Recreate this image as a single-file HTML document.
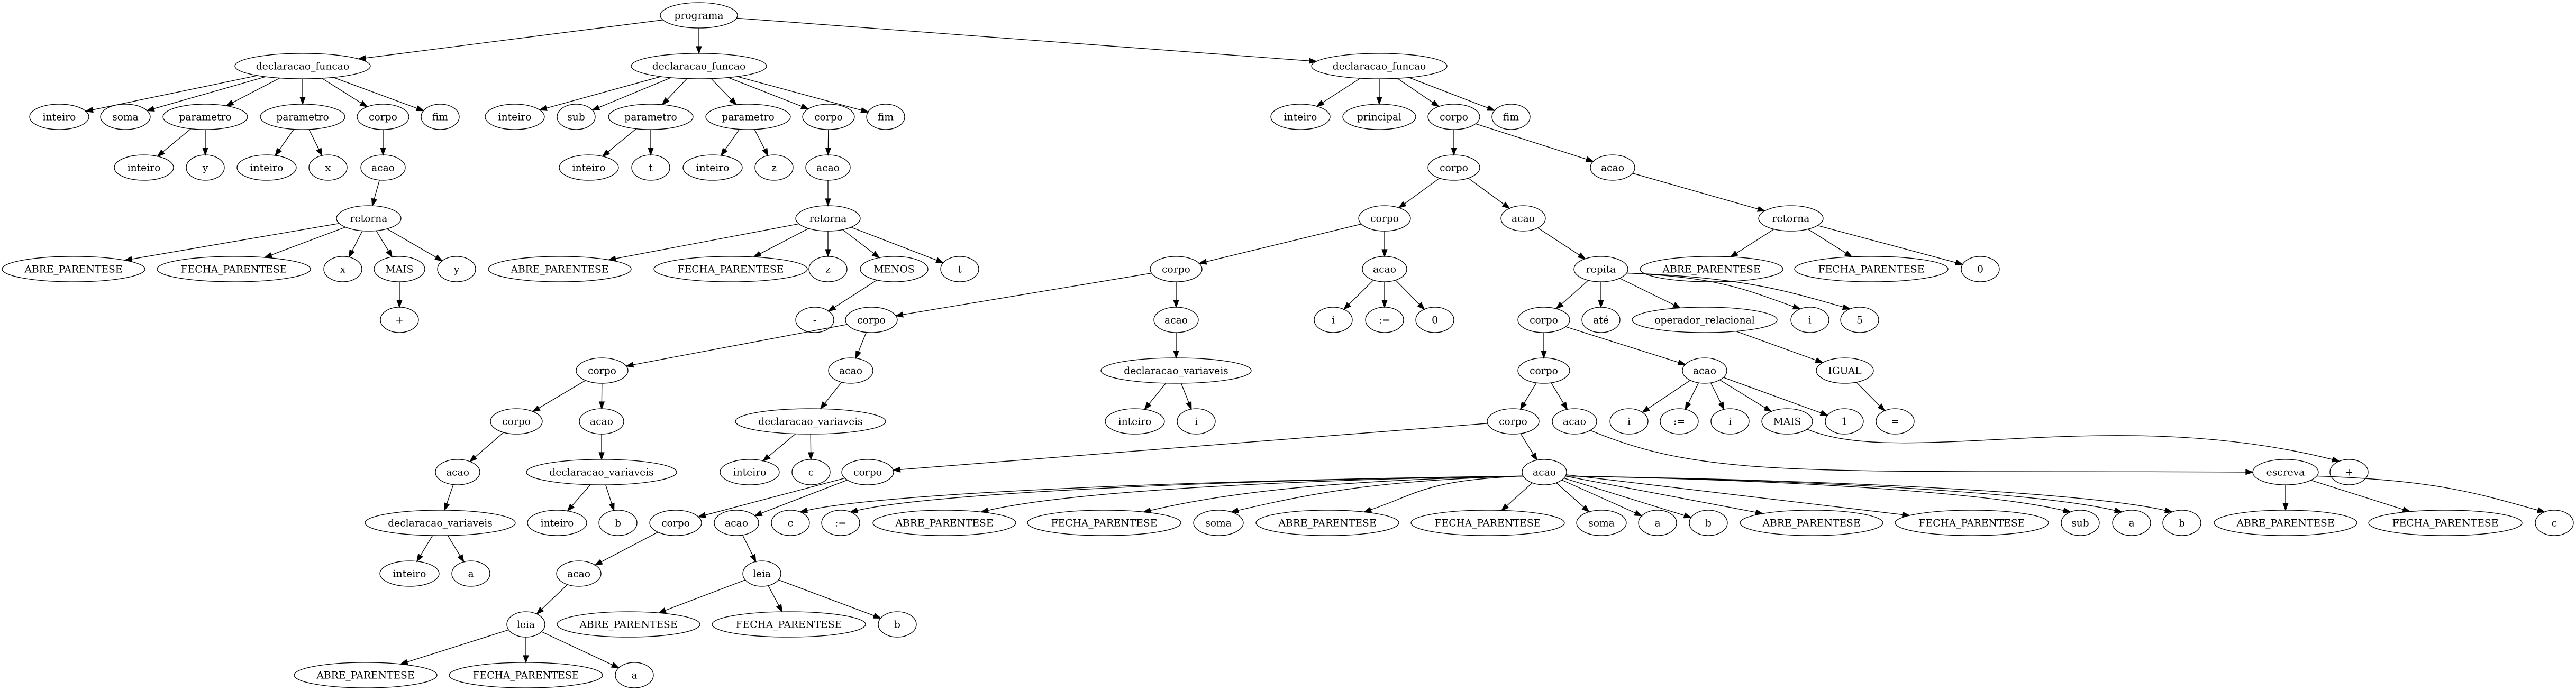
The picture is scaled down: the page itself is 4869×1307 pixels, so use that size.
<!DOCTYPE html>
<html><head><meta charset="utf-8">
<style>
html,body{margin:0;padding:0;background:#fff;}
svg{display:block;}
text{font-family:"DejaVu Serif","Liberation Serif",serif;font-size:18.67px;}
</style></head>
<body>
<svg id="g" xmlns="http://www.w3.org/2000/svg" width="4869" height="1307" viewBox="0 0 4869 1307"></svg>
<script>
var RX={"inteiro":56,"soma":47,"parametro":80,"corpo":49,"fim":36,"acao":42,"retorna":61,
"ABRE_PARENTESE":135,"FECHA_PARENTESE":145,"MAIS":48,"MENOS":64,"declaracao_funcao":128,
"declaracao_variaveis":142,"principal":69,"sub":36,"leia":36,"repita":51,"até":36,
"operador_relacional":137,"IGUAL":54,"escreva":62,"programa":73};
var N={};
function n(id,label,x,L){N[id]={l:label,x:x,y:29+96*L,rx:RX[label]||36};}
var E=[];
function e(a,bs){bs.forEach(function(b){E.push([a,b]);});}
n("p","programa",1321,0);
n("f1","declaracao_funcao",572,1);n("f2","declaracao_funcao",1321,1);n("f3","declaracao_funcao",2607,1);
e("p",["f1","f2","f3"]);
n("a1","inteiro",112,2);n("a2","soma",237,2);n("a3","parametro",388,2);n("a4","parametro",572,2);n("a5","corpo",724,2);n("a6","fim",832,2);
e("f1",["a1","a2","a3","a4","a5","a6"]);
n("b1","inteiro",272,3);n("b2","y",388,3);n("b3","inteiro",504,3);n("b4","x",620,3);n("b5","acao",724,3);
e("a3",["b1","b2"]);e("a4",["b3","b4"]);e("a5",["b5"]);
n("c1","retorna",697,4);e("b5",["c1"]);
n("d1","ABRE_PARENTESE",139,5);n("d2","FECHA_PARENTESE",442,5);n("d3","x",648,5);n("d4","MAIS",755,5);n("d5","y",863,5);
e("c1",["d1","d2","d3","d4","d5"]);
n("d6","+",755,6);e("d4",["d6"]);
n("g1","inteiro",973,2);n("g2","sub",1089,2);n("g3","parametro",1230,2);n("g4","parametro",1414,2);n("g5","corpo",1566,2);n("g6","fim",1674,2);
e("f2",["g1","g2","g3","g4","g5","g6"]);
n("h1","inteiro",1113,3);n("h2","t",1230,3);n("h3","inteiro",1347,3);n("h4","z",1463,3);n("h5","acao",1565,3);
e("g3",["h1","h2"]);e("g4",["h3","h4"]);e("g5",["h5"]);
n("i1","retorna",1565,4);e("h5",["i1"]);
n("j1","ABRE_PARENTESE",1058,5);n("j2","FECHA_PARENTESE",1381,5);n("j3","z",1565,5);n("j4","MENOS",1690,5);n("j5","t",1814,5);
e("i1",["j1","j2","j3","j4","j5"]);
n("j6","-",1540,6);e("j4",["j6"]);
n("k1","inteiro",2458,2);n("k2","principal",2607,2);n("k3","corpo",2748,2);n("k4","fim",2856,2);
e("f3",["k1","k2","k3","k4"]);
n("l1","corpo",2748,3);n("l2","acao",3048,3);e("k3",["l1","l2"]);
n("m1","corpo",2617,4);n("m2","acao",2879,4);n("m3","retorna",3385,4);
e("l1",["m1","m2"]);e("l2",["m3"]);
n("o1","corpo",2223,5);n("o2","acao",2617,5);n("o3","repita",3026,5);n("o4","ABRE_PARENTESE",3235,5);n("o5","FECHA_PARENTESE",3537,5);n("o6","0",3743,5);
e("m1",["o1","o2"]);e("m2",["o3"]);e("m3",["o4","o5","o6"]);
n("q1","corpo",1647,6);n("q2","acao",2223,6);n("q3","i",2520,6);n("q4",":=",2617,6);n("q5","0",2712,6);
n("q6","corpo",2918,6);n("q7","até",3026,6);n("q8","operador_relacional",3222,6);n("q9","i",3421,6);n("q10","5",3515,6);
e("o1",["q1","q2"]);e("o2",["q3","q4","q5"]);e("o3",["q6","q7","q8","q9","q10"]);
n("r1","corpo",1138,7);n("r2","acao",1608,7);n("r3","declaracao_variaveis",2223,7);n("r4","corpo",2918,7);n("r5","acao",3222,7);n("r6","IGUAL",3487,7);
e("q1",["r1","r2"]);e("q2",["r3"]);e("q6",["r4","r5"]);e("q8",["r6"]);
n("s1","corpo",976,8);n("s2","acao",1137,8);n("s3","declaracao_variaveis",1532,8);n("s4","inteiro",2145,8);n("s5","i",2261,8);
n("s6","corpo",2860,8);n("s7","acao",2976,8);n("s8","i",3079,8);n("s9",":=",3174,8);n("s10","i",3270,8);n("s11","MAIS",3378,8);n("s12","1",3486,8);n("s13","=",3582,8);
e("r1",["s1","s2"]);e("r2",["s3"]);e("r3",["s4","s5"]);e("r4",["s6","s7"]);e("r5",["s8","s9","s10","s11","s12"]);e("r6",["s13"]);
n("t1","acao",865,9);n("t2","declaracao_variaveis",1137,9);n("t3","inteiro",1417,9);n("t4","c",1533,9);n("t5","corpo",1640,9);n("t6","acao",2919,9);n("t7","escreva",4320,9);n("t8","+",4440,9);
e("s1",["t1"]);e("s2",["t2"]);e("s3",["t3","t4"]);e("s6",["t5","t6"]);
n("u1","declaracao_variaveis",832,10);n("u2","inteiro",1053,10);n("u3","b",1168,10);n("u4","corpo",1277,10);n("u5","acao",1392,10);
e("t1",["u1"]);e("t2",["u2","u3"]);e("t5",["u4","u5"]);
var L10=[["c",1494],[":=",1589],["ABRE_PARENTESE",1785],["FECHA_PARENTESE",2087],["soma",2303],["ABRE_PARENTESE",2509],["FECHA_PARENTESE",2812],["soma",3027],["a",3133],["b",3229],["ABRE_PARENTESE",3424],["FECHA_PARENTESE",3727],["sub",3932],["a",4029],["b",4124]];
L10.forEach(function(v,i){n("v"+i,v[0],v[1],10);E.push(["t6","v"+i]);});
n("w1","ABRE_PARENTESE",4320,10);n("w2","FECHA_PARENTESE",4622,10);n("w3","c",4828,10);
e("t7",["w1","w2","w3"]);
n("x1","inteiro",774,11);n("x2","a",890,11);n("x3","acao",1094,11);n("x4","leia",1440,11);
e("u1",["x1","x2"]);e("u4",["x3"]);e("u5",["x4"]);
n("y1","leia",994,12);n("y2","ABRE_PARENTESE",1188,12);n("y3","FECHA_PARENTESE",1491,12);n("y4","b",1696,12);
e("x3",["y1"]);e("x4",["y2","y3","y4"]);
n("z1","ABRE_PARENTESE",691,13);n("z2","FECHA_PARENTESE",994,13);n("z3","a",1199,13);
e("y1",["z1","z2","z3"]);

var CURVE={"o3>q9":1,"o3>q10":1,"t6>v0":1,"t6>v1":1,"t6>v2":1,"t6>v3":1,"t6>v4":1,"t6>v5":1,"t6>v12":1,"t6>v13":1,"t6>v14":1,"t7>w3":1};
var RY=24, s="";
function clip(nd,dx,dy){var t=1/Math.sqrt((dx/nd.rx)*(dx/nd.rx)+(dy/RY)*(dy/RY));return [nd.x+dx*t,nd.y+dy*t];}
function f(v){return v.toFixed(1);}
function arrow(q,ux,uy){
  var al=13,hw=4.7,bx=q[0]-ux*al,by=q[1]-uy*al;
  s+='<polygon points="'+f(q[0])+','+f(q[1])+' '+f(bx-uy*hw)+','+f(by+ux*hw)+' '+f(bx+uy*hw)+','+f(by-ux*hw)+'" fill="#000" stroke="#000" stroke-width="1.33"/>';
  return [bx,by];
}
function curve(p,c1,c2,q){
  var vx=q[0]-c2[0],vy=q[1]-c2[1],vl=Math.sqrt(vx*vx+vy*vy);vx/=vl;vy/=vl;
  var bb=arrow(q,vx,vy);
  s+='<path d="M'+f(p[0])+','+f(p[1])+' C'+f(c1[0])+','+f(c1[1])+' '+f(c2[0])+','+f(c2[1])+' '+f(bb[0])+','+f(bb[1])+'" fill="none" stroke="#000" stroke-width="1.33"/>';
}
E.forEach(function(ed){
  var a=N[ed[0]],b=N[ed[1]];
  var dx=b.x-a.x,dy=b.y-a.y;
  if(CURVE[ed[0]+">"+ed[1]]){
    var dir=dx>0?1:-1, adx=Math.abs(dx);
    var p=[a.x+dir*a.rx*0.95,a.y+RY*0.31];
    var q=clip(b,-dir*b.rx*0.6,-RY);
    var c1=[p[0]+dir*adx*0.45,p[1]+8];
    var c2=[q[0]-dir*Math.min(adx*0.25,150),q[1]-35];
    curve(p,c1,c2,q);
  } else {
    var p=clip(a,dx,dy),q=clip(b,-dx,-dy);
    var ux=q[0]-p[0],uy=q[1]-p[1],len=Math.sqrt(ux*ux+uy*uy);ux/=len;uy/=len;
    var bb=arrow(q,ux,uy);
    s+='<line x1="'+f(p[0])+'" y1="'+f(p[1])+'" x2="'+f(bb[0])+'" y2="'+f(bb[1])+'" stroke="#000" stroke-width="1.33"/>';
  }
});
// acao -> escreva
(function(){var a=N["s7"],b=N["t7"];
  curve([a.x+30,a.y+17],[a.x+250,a.y+110],[b.x-900,b.y-4],[b.x-b.rx,b.y]);})();
// MAIS -> +
(function(){var a=N["s11"],b=N["t8"];
  var q=clip(b,-b.rx*0.6,-RY);
  curve([a.x+38,a.y+15],[a.x+220,a.y+90],[b.x-450,b.y-130],q);})();
for(var k in N){var d=N[k];
  s+='<ellipse cx="'+d.x+'" cy="'+d.y+'" rx="'+d.rx+'" ry="'+RY+'" fill="#fff" fill-opacity="0" stroke="#000" stroke-width="1.33"/>';
  s+='<text x="'+d.x+'" y="'+(d.y+6.5)+'" text-anchor="middle">'+d.l+'</text>';
}
document.getElementById("g").innerHTML=s;
</script>
</body></html>
